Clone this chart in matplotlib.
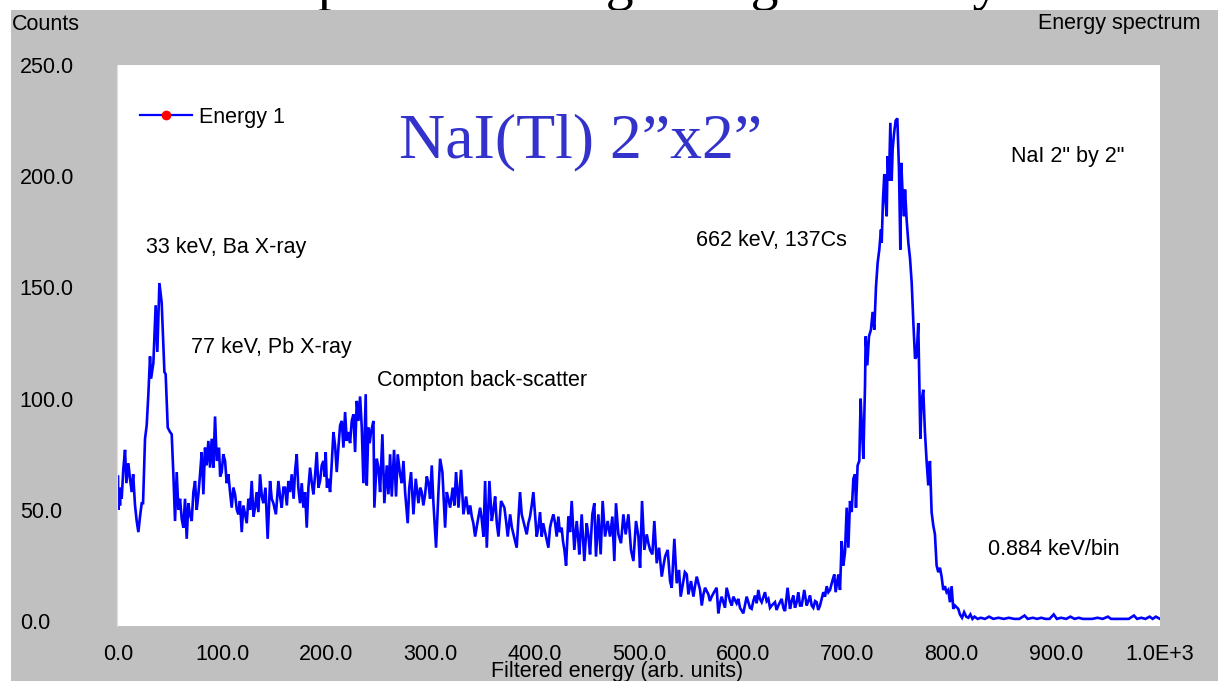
import matplotlib
matplotlib.use("Agg")
import matplotlib.pyplot as plt
from matplotlib.lines import Line2D
from matplotlib.patches import Rectangle

# ---- spectrum data: filtered energy (arb. units) vs counts ----
energy = [
    0, 0.3, 1.0, 1.9, 2.7, 3.5, 5, 6.7, 8, 9.9, 11.5, 13.1, 14.5, 16.3, 17.9, 19.5, 21.1, 22.7, 24,
    25.9, 27.5, 29.1, 30.7, 31.7, 33.9, 36.1, 37.7, 39.7, 41.9, 44.5, 45.7, 47.7, 49.9, 51.5, 53.1,
    54.7, 56.3, 57.9, 59.5, 61.1, 62.7, 64.3, 65.9, 67.5, 69, 70.7, 72.3, 73.9, 75.5, 77.1, 78.7,
    80.3, 81.9, 83.5, 85, 86.7, 88.3, 89.9, 91.5, 93.1, 94.7, 96.9, 98, 99.5, 101, 102.7, 104.3,
    105.9, 107.5, 109.1, 110.7, 112.3, 114, 115.5, 117, 118.7, 120.3, 121.9, 123.5, 125.1, 126.7,
    128.3, 130, 131.5, 133, 134.7, 136.3, 138, 139.5, 141.5, 143.6, 145.9, 147.5, 149.1, 151.5,
    153.9, 155.5, 157.1, 158.7, 160.3, 162, 163.5, 165, 166.7, 168.5, 170, 171.5, 173, 174.7,
    176.3, 177.9, 179.5, 181.1, 182.7, 184.3, 186, 187.5, 189, 190.7, 192.3, 193.9, 195.5, 197.1,
    198.3, 199.3, 200.5, 201.9,
    203.5, 205, 206.7, 208.3, 209.9, 211.5, 213.1, 214.7, 216.3, 217.9, 219.5, 221.1, 222.7,
    224.3, 225.9, 227.5, 229.1, 230.7, 232.3, 233.9, 235.5, 237.7, 238.7, 240.3, 241.5, 242.8,
    245.1, 246, 248.3, 249.9, 251.5, 253.7, 255.6, 257.9, 259.5, 261.1, 262.7, 264.9, 266.8,
    268.4, 270.7, 272.3, 273.9, 275.5, 278, 279.5, 281.2, 283.5, 285.7, 288.3, 290, 291.5, 293,
    294.7, 296.3, 297.9, 299.5, 301.1, 302.7, 305.2, 307.5, 309.1, 311.3, 313.9, 315.5, 317,
    318.7, 321.2, 322.8, 324.4, 326.7, 329.2, 331.5, 334, 336.3, 338, 339.5, 341, 342.7, 345.2,
    347.5, 349, 350.7, 352.3, 353.9, 356.4, 358.7, 360.3, 361.9, 363.5, 365.1, 367.6, 370.8,
    372.4, 374, 376.3, 378, 379.5, 382.6, 385.8, 387.4, 389, 392.2, 393.8, 395.4, 397, 398.6,
    401.8, 403.4,
    405, 406.6, 408, 409.8, 411.5, 413, 414.6, 416, 417.8, 419.5, 421, 422.6, 424, 425.8, 427,
    428.4, 430, 432.2, 433.8, 435.4, 437.9, 440.2, 441.5, 442.7, 445, 447.5, 449.8, 451.5, 453,
    455.2, 457.1, 458.7, 461, 463.2, 465.1, 467.4, 469.9, 472.2, 474.4, 476.3, 477.9, 480.2,
    482.7, 485, 487.2, 489.8, 492.3, 494.6, 497.1, 499.4, 501, 502.9, 505.1, 507.4, 509, 510.6,
    512.8, 514.7, 517, 519.2, 521.8, 523.5, 525, 527.5, 529.8, 531.4, 533.9, 536.2, 538.4, 540,
    542.6, 544, 545.8, 547.4, 549.9, 552.2, 553.8, 555.4, 558.6, 560.2, 561.8, 563.4, 566.6, 568,
    569.7, 572, 574.5, 576.1, 577.7, 579.3, 582.5, 584.1, 587.3, 589, 590.5, 593.7, 595.3, 596.9,
    600.1, 603.3, 606.5,
    608.1, 609.7, 611.3, 612.9, 614.5, 616, 617.7, 620.9, 622.5, 624.1, 625.7, 627.3, 630.5, 632,
    633.7, 636.9, 638.5, 640.1, 642.6, 644.9, 646.5, 648.1, 649.7, 651.3, 652.9, 654.5, 656.1,
    658.6, 660.9, 662.5, 664.1, 665.7, 667.3, 669, 670.5, 672, 673.7, 675.3, 676.9, 678.5, 680.1,
    681.7, 683.3, 685.5, 687.4, 688.7, 691.3, 692.9, 694.5, 696.1, 697.7, 699.3, 700.9, 702.5,
    704.1, 705.7, 707.3, 708.2, 709.8, 711.4, 712.7, 713.7, 715.3, 716.9, 717.5, 719.1, 720.7,
    722.6, 724.2, 725.8, 727.4, 729, 730.6, 732.2, 732.9, 734.1, 735.4, 736.4, 737.7, 738.6,
    739.9, 741.2, 742.5, 743.4, 744.7, 746.3, 747.9, 749.5, 750.8, 751.7, 752.7, 754.3, 755.3,
    756.9, 758.5, 760.1, 761.7, 763.3, 764.9, 766.4, 768, 769, 770, 771.2, 772.8, 774.4, 776,
    777.6, 779.2, 780.8, 782.4, 784, 785.6, 787.2, 788.8, 790.4, 792, 793.6, 795.2, 796.8, 798.4,
    800, 801.6, 803.2, 806.4,
    808, 810, 812, 814, 816, 818, 820, 822, 825, 828, 832, 836, 840, 845, 850, 855, 860, 865,
    870, 873, 878, 882, 886, 890, 894, 898, 901, 905, 910, 914, 918, 922, 926, 930, 935, 940,
    945, 950, 953, 958, 962, 966, 970, 975, 978, 982, 986, 990, 993, 996, 1000,
]

counts = [
    65, 50, 58, 52, 60, 55, 68, 77, 62, 71, 64, 58, 66, 52, 45, 40, 47, 53, 53,
    82, 88, 102, 119, 109, 116, 142, 121, 152, 143, 112, 111, 87, 85, 84, 66,
    45, 67, 50, 55, 46, 42, 55, 37, 53, 48, 45, 58, 63, 50, 57, 66,
    76, 57, 78, 70, 81, 69, 82, 69, 92, 72, 78, 65, 67, 75, 72, 62,
    66, 58, 51, 60, 57, 50, 48, 54, 40, 52, 48, 44, 55, 50,
    63, 47, 51, 58, 49, 66, 56, 53, 60, 37, 63, 55, 53, 48,
    63, 56, 51, 60, 60, 52, 63, 58, 66, 55, 68, 75, 60, 53,
    62, 51, 58, 42, 60, 69, 62, 57, 65, 76, 60, 63, 70, 72,
    65, 76, 60, 64,
    58, 70, 85, 79, 67, 78, 88, 90, 78, 94, 81, 85, 80,
    90, 93, 76, 99, 90, 101, 87, 62, 102, 61, 87, 80, 85,
    90, 51, 73, 69, 58, 84, 53, 70, 57, 75, 56, 77, 56,
    75, 66, 62, 72, 58, 44, 60, 67, 48, 64, 53, 60, 58, 52,
    57, 65, 62, 55, 70, 53, 33, 58, 73, 67, 42, 58, 55,
    51, 60, 52, 67, 51, 68, 48, 56, 48, 52, 47, 44, 38, 45,
    51, 46, 38, 63, 33, 63, 45, 50, 56, 44, 38, 54, 51,
    45, 38, 48, 42, 39, 33, 58, 48, 45, 39, 44, 47, 52, 58,
    38, 42,
    49, 38, 44, 40, 36, 33, 42, 45, 48, 44, 38, 47, 40, 42, 36,
    32, 25, 47, 40, 54, 32, 45, 38, 30, 48, 27, 44, 38, 30,
    48, 53, 29, 48, 30, 54, 38, 45, 38, 47, 27, 53, 39,
    35, 48, 39, 48, 32, 27, 45, 38, 24, 54, 32, 39, 35, 32,
    30, 45, 26, 33, 20, 25, 29, 32, 18, 15, 37, 17, 23, 11,
    18, 22, 21, 12, 18, 11, 16, 20, 14, 7, 12, 15, 12, 9,
    11, 13, 15, 3.5, 8, 11, 6, 15, 9, 7, 11, 8, 10, 6,
    3.5, 11, 6,
    5.5, 9, 11.5, 8, 14, 10, 8.5, 13, 9, 10, 6, 7, 8.5, 5,
    7, 10, 6, 4.5, 15, 5.5, 9, 11.5, 6, 8.5, 13, 7, 7,
    14, 7, 9, 11.5, 7, 6, 9, 8.5, 5, 7, 10, 13, 11, 15.7,
    13, 14, 18, 21, 13, 21, 14, 36, 25, 31, 51, 33, 54,
    49, 64, 66, 51, 70, 72, 100, 89, 73, 106, 128, 115, 128,
    131, 139, 131, 150, 161, 167, 176, 170, 189, 201, 190, 182, 209,
    198, 224, 198, 212, 219, 225, 226, 203, 167, 206, 195, 182, 194,
    180, 170, 163, 152, 134, 118, 119, 134, 109, 82, 99, 104, 85, 72,
    61, 72, 49, 43, 39, 25, 22, 24, 20, 14, 15.7, 13, 14, 8.5,
    15.7, 5.5, 7, 5.5,
    3, 1.5, 4, 2, 1.5, 3, 1, 2, 1, 1.5, 1, 2, 1, 1.5, 1, 1.5, 1, 1,
    2.5, 1, 1.5, 1, 1.5, 1, 1, 3, 1, 1.5, 1, 2, 1, 1.5, 1, 1, 1, 1.5,
    1, 2, 1, 1, 1, 1, 1, 2.5, 1, 1.5, 1, 2, 1, 2, 1,
]

x_ticks = [0, 100, 200, 300, 400, 500, 600, 700, 800, 900, 1000]
x_tick_labels = ["0.0", "100.0", "200.0", "300.0", "400.0", "500.0",
                 "600.0", "700.0", "800.0", "900.0", "1.0E+3"]
y_ticks = [0, 50, 100, 150, 200, 250]
y_tick_labels = ["0.0", "50.0", "100.0", "150.0", "200.0", "250.0"]

# peak annotations: (energy, counts, text)
annotations = [
    (27, 168, "33 keV, Ba X-ray"),
    (70, 123, "77 keV, Pb X-ray"),
    (249, 108, "Compton back-scatter"),
    (555, 171, "662 keV, 137Cs"),
    (857, 209, 'NaI 2" by 2"'),
    (835, 32, "0.884 keV/bin"),
]

W, H = 1218, 681
DPI = 100
FS = 15.5
GRAY = "#c0c0c0"

plt.rcParams["font.family"] = ["Liberation Sans", "DejaVu Sans"]

fig = plt.figure(figsize=(W / DPI, H / DPI), dpi=DPI, facecolor="white")

# large heading above the panel (only its descenders reach the page)
fig.text(0.5, 1 + 1 / H, "137Cs spectrum using a single NaI crystal",
         ha="center", va="baseline", fontsize=40,
         family=["Liberation Serif", "DejaVu Serif"], color="black", zorder=-3)

# gray panel behind the plot
fig.patches.append(Rectangle((11 / W, 0), 1 - 11 / W, 1 - 10 / H,
                             transform=fig.transFigure, facecolor=GRAY,
                             edgecolor="none", zorder=-2))

ax = fig.add_axes([117 / W, 1 - 626 / H, (1160 - 117) / W, (626 - 65) / H])
ax.set_zorder(1)
ax.set_facecolor("white")
for s in ax.spines.values():
    s.set_visible(False)
ax.spines["left"].set_visible(True)
ax.spines["left"].set_color("#e0e0e0")

ax.plot(energy, counts, color="#0000ff", lw=1.9, solid_joinstyle="miter")

ax.set_xlim(-1, 1000)
ax.set_ylim(-2.2, 248.5)

ax.set_xticks(x_ticks)
ax.set_xticklabels(x_tick_labels, fontsize=FS)
ax.set_yticks(y_ticks)
ax.set_yticklabels(y_tick_labels, fontsize=FS, ha="left")
ax.tick_params(axis="x", length=0, pad=13)
ax.tick_params(axis="y", length=0, pad=70)

for ex, cy, txt in annotations:
    ax.text(ex, cy, txt, fontsize=FS, ha="left", va="center", color="black")

ax.text(444, 215, "NaI(Tl) 2\u201dx2\u201d", ha="center", va="center",
        fontsize=46, color="#3333cc",
        family=["Liberation Serif", "DejaVu Serif"])

proxy = Line2D([], [], color="#0000ff", lw=1.6, marker="o",
               markerfacecolor="red", markeredgecolor="red", markersize=6)
ax.legend([proxy], ["Energy 1"], loc="center left",
          bbox_to_anchor=(140 / W, 1 - 117 / H), bbox_transform=fig.transFigure,
          frameon=False, fontsize=FS, handlelength=2.4, handletextpad=0.35,
          borderpad=0, borderaxespad=0, markerscale=1.0)

fig.text(12 / W, 1 - 24 / H, "Counts", fontsize=FS, ha="left", va="center")
fig.text(1200 / W, 1 - 24 / H, "Energy spectrum", fontsize=FS, ha="right", va="center")
fig.text(617 / W, 1 - 671 / H, "Filtered energy (arb. units)", fontsize=FS,
         ha="center", va="center")

fig.savefig("out.png", dpi=DPI, facecolor="white")
